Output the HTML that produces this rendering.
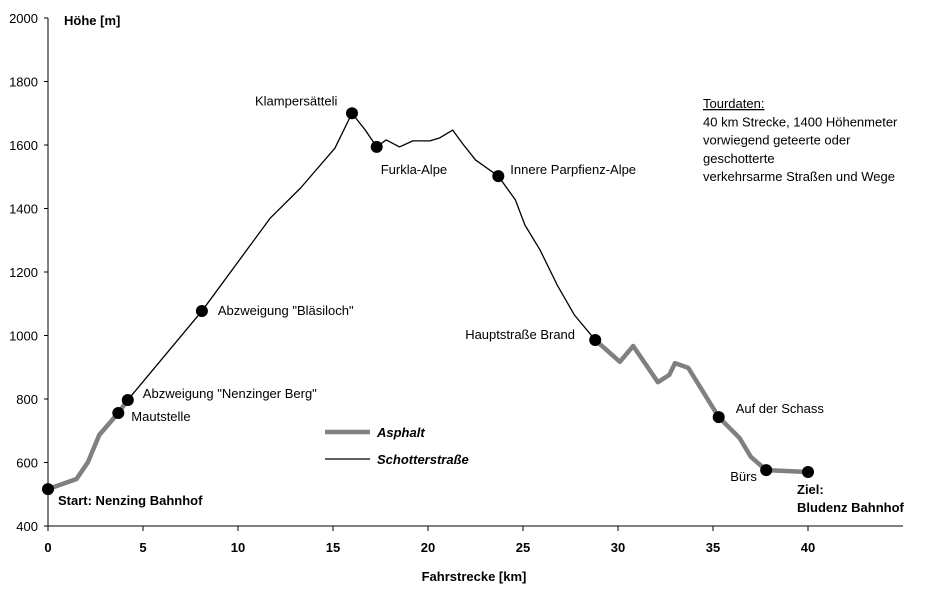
<!DOCTYPE html>
<html><head><meta charset="utf-8"><style>
body{margin:0;background:#fff;}
svg text{font-family:"Liberation Sans",Arial,sans-serif;font-size:13px;fill:#000;}
.b{font-weight:bold;}
</style></head><body>
<svg id="c" width="926" height="587" xmlns="http://www.w3.org/2000/svg"></svg>
<script>
const yTicks=[400,600,800,1000,1200,1400,1600,1800,2000];
const xTicks=[0,5,10,15,20,25,30,35,40];
const asphalt1Km=[0,1.5,2.1,2.7,3.7,4.2];
const asphalt1El=[516,548,601,687,756,797];
const gravelKm=[4.2,8.1,11.7,13.3,15.1,16,16.7,17.3,17.8,18.5,19.2,20.1,20.6,21.3,21.8,22.5,23.7,24.6,25.1,25.9,26.8,27.7,28.8];
const gravelEl=[797,1077,1370,1465,1590,1700,1647,1594,1616,1594,1613,1613,1622,1647,1606,1553,1502,1427,1348,1269,1159,1065,986];
const asphalt2Km=[28.8,30.1,30.8,32.1,32.7,33,33.7,35.3,36.4,37,37.8,40];
const asphalt2El=[986,917,967,853,876,913,898,743,677,617,576,570];
const markerNames=["Start: Nenzing Bahnhof","Mautstelle","Abzweigung \"Nenzinger Berg\"","Abzweigung \"Bläsiloch\"","Klampersätteli","Furkla-Alpe","Innere Parpfienz-Alpe","Hauptstraße Brand","Auf der Schass","Bürs","Ziel:"];
const markerKm=[0,3.7,4.2,8.1,16,17.3,23.7,28.8,35.3,37.8,40];
const markerEl=[516,756,797,1077,1700,1594,1502,986,743,576,570];
const labelDx=[10,13,15,16,-97,4,12,-130,17,-36,-11];
const labelDy=[16,8,-2,4,-8,27,-2,-1,-4,11,22];
const labelBold=[1,0,0,0,0,0,0,0,0,0,1];

const X=k=>48+k*19;
const Y=v=>526-(v-400)*0.3175;
const svg=document.getElementById('c');
const NS='http://www.w3.org/2000/svg';
function mk(t,a,txt){const e=document.createElementNS(NS,t);for(const k in a)e.setAttribute(k,a[k]);if(txt!=null)e.textContent=txt;svg.appendChild(e);return e;}

let e;
e=mk('line',{x1:48,y1:18,x2:48,y2:526,stroke:'#000','stroke-width':1});


e=mk('line',{x1:48,y1:526,x2:903,y2:526,stroke:'#000','stroke-width':1});


yTicks.forEach(v=>{
 const y=Y(v);
 let t=mk('line',{x1:44,y1:y,x2:48,y2:y,stroke:'#000'});
 
 
 let l=mk('text',{x:38,y:y+5,'text-anchor':'end'},v);
 
 
});
xTicks.forEach(v=>{
 const x=X(v);
 let t=mk('line',{x1:x,y1:526,x2:x,y2:531,stroke:'#000'});
 
 
 let l=mk('text',{x:x,y:552,'text-anchor':'middle',class:'b'},v);
 
 
});
e=mk('text',{x:64,y:25,class:'b'},'Höhe [m]');


e=mk('text',{x:474,y:581,'text-anchor':'middle',class:'b'},'Fahrstrecke [km]');



function pts(ks,vs){return ks.map((k,i)=>X(k)+','+Y(vs[i])).join(' ');}
e=mk('polyline',{points:pts(asphalt1Km,asphalt1El),fill:'none',stroke:'#808080','stroke-width':4.5,'stroke-linejoin':'round'});


e=mk('polyline',{points:pts(gravelKm,gravelEl),fill:'none',stroke:'#000','stroke-width':1.3,'stroke-linejoin':'round'});


e=mk('polyline',{points:pts(asphalt2Km,asphalt2El),fill:'none',stroke:'#808080','stroke-width':4.5,'stroke-linejoin':'round'});



markerKm.forEach((k,i)=>{
 const x=X(k),y=Y(markerEl[i]);
 let c=mk('circle',{cx:x,cy:y,r:6,fill:'#000'});
 
 
 let t=mk('text',{x:x+labelDx[i],y:y+labelDy[i],class:labelBold[i]?'b':''},markerNames[i]);
 
 
});
e=mk('text',{x:797,y:512,class:'b'},'Bludenz Bahnhof');



e=mk('line',{x1:325,y1:432,x2:370,y2:432,stroke:'#808080','stroke-width':4.5});


e=mk('text',{x:377,y:437,class:'b','font-style':'italic','font-size':'15'},'Asphalt');


e=mk('line',{x1:325,y1:459,x2:370,y2:459,stroke:'#000','stroke-width':1.3});


e=mk('text',{x:377,y:464,class:'b','font-style':'italic','font-size':'15'},'Schotterstraße');



const info=['Tourdaten:','40 km Strecke, 1400 Höhenmeter','vorwiegend geteerte oder','geschotterte','verkehrsarme Straßen und Wege'];
info.forEach((s,i)=>{
 let t=mk('text',{x:703,y:108+i*18.3,'text-decoration':i===0?'underline':'none'},s);
 
 
});
</script>
</body></html>
